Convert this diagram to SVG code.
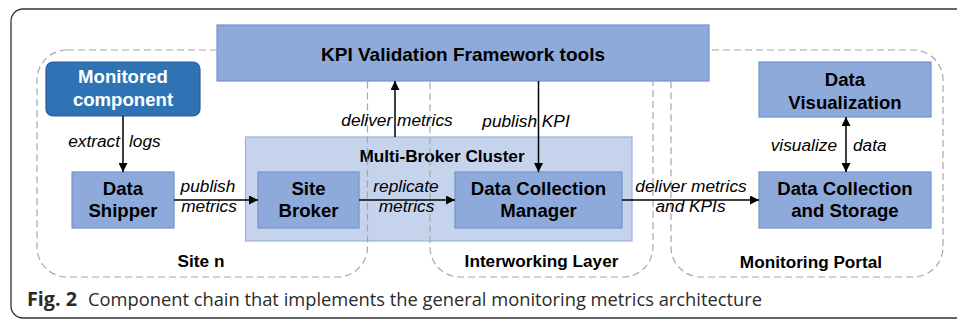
<svg xmlns="http://www.w3.org/2000/svg" width="957" height="321" viewBox="0 0 957 321">
<defs>
<marker id="ah" viewBox="0 0 10 10" refX="10" refY="5" markerWidth="9" markerHeight="9" markerUnits="userSpaceOnUse" orient="auto-start-reverse">
<path d="M0,0 L10,5 L0,10 z" fill="#000"/>
</marker>
<style>
.node{fill:#8eaadb;stroke:#7393cc;stroke-width:1.2}
.cluster{fill:#c5d3ed;stroke:#9cb2dc;stroke-width:1.2}
.mon{fill:#2e74b5;stroke:#2a5b93;stroke-width:1.2}
.region{fill:none;stroke:#a6a6a6;stroke-width:1.2;stroke-dasharray:7 4}
.nt{font-family:"Liberation Sans",Arial,sans-serif;font-weight:bold;font-size:18.6px;fill:#000;text-anchor:middle}
.wt{fill:#fff}
.rt{font-family:"Liberation Sans",Arial,sans-serif;font-weight:bold;font-size:17.2px;fill:#000;text-anchor:middle}
.lt{font-family:"Liberation Sans",Arial,sans-serif;font-style:italic;font-size:17.3px;fill:#000}
.edge{stroke:#000;stroke-width:1.5;fill:none;marker-end:url(#ah)}
.cap{font-family:"Open Sans","Noto Sans",sans-serif;font-size:19px;fill:#2b2b2b}
</style>
</defs>
<rect x="11" y="9" width="980" height="309" rx="12" fill="#fff" stroke="#333" stroke-width="1.3"/>
<g id="multi-broker-cluster">
<rect class="cluster" x="245.5" y="137" width="386.5" height="104"/>
<text class="rt" x="442" y="162">Multi-Broker Cluster</text>
</g>
<g id="site-n">
<rect class="region" x="37" y="50" width="330.5" height="227" rx="30"/>
<text class="rt" x="201" y="267">Site n</text>
</g>
<g id="interworking-layer">
<rect class="region" x="430" y="50" width="223" height="227" rx="30"/>
<text class="rt" x="541.5" y="267">Interworking Layer</text>
</g>
<g id="monitoring-portal">
<rect class="region" x="671" y="50" width="272" height="227" rx="30"/>
<text class="rt" x="811" y="268">Monitoring Portal</text>
</g>
<g id="kpi-validation">
<rect class="node" x="217" y="25" width="492" height="56"/>
<text class="nt" x="463" y="61" style="font-size:19px">KPI Validation Framework tools</text>
</g>
<g id="monitored-component">
<rect class="mon" x="46" y="62" width="154" height="54" rx="7"/>
<text class="nt wt" x="123" y="83">Monitored</text>
<text class="nt wt" x="123" y="106">component</text>
</g>
<g id="data-shipper">
<rect class="node" x="72" y="172" width="102" height="56"/>
<text class="nt" x="123" y="195">Data</text>
<text class="nt" x="123" y="217">Shipper</text>
</g>
<g id="site-broker">
<rect class="node" x="258" y="172" width="101" height="56"/>
<text class="nt" x="308.5" y="195">Site</text>
<text class="nt" x="308.5" y="217">Broker</text>
</g>
<g id="data-collection-manager">
<rect class="node" x="455" y="172" width="167" height="56"/>
<text class="nt" x="538.5" y="195">Data Collection</text>
<text class="nt" x="538.5" y="217">Manager</text>
</g>
<g id="data-collection-storage">
<rect class="node" x="759" y="172" width="172" height="56"/>
<text class="nt" x="845" y="195">Data Collection</text>
<text class="nt" x="845" y="217">and Storage</text>
</g>
<g id="data-visualization">
<rect class="node" x="759" y="62" width="172" height="55"/>
<text class="nt" x="845" y="86">Data</text>
<text class="nt" x="845" y="109">Visualization</text>
</g>
<g id="connectors">
<line class="edge" x1="123" y1="116" x2="123" y2="172"/>
<line class="edge" x1="174" y1="200" x2="258" y2="200"/>
<line class="edge" x1="359" y1="200" x2="455" y2="200"/>
<line class="edge" x1="395" y1="137" x2="395" y2="81"/>
<line class="edge" x1="538.5" y1="81" x2="538.5" y2="172"/>
<line class="edge" x1="622" y1="200" x2="759" y2="200"/>
<line class="edge" x1="846" y1="117" x2="846" y2="172" marker-start="url(#ah)"/>
<text class="lt" x="120" y="147" text-anchor="end">extract</text>
<text class="lt" x="129" y="147">logs</text>
<text class="lt" x="208" y="192" text-anchor="middle">publish</text>
<text class="lt" x="209" y="212" text-anchor="middle">metrics</text>
<text class="lt" x="406" y="192" text-anchor="middle">replicate</text>
<text class="lt" x="406.5" y="212" text-anchor="middle">metrics</text>
<text class="lt" x="397" y="126" text-anchor="middle">deliver metrics</text>
<text class="lt" x="526" y="126.5" text-anchor="middle">publish KPI</text>
<text class="lt" x="691" y="192" text-anchor="middle">deliver metrics</text>
<text class="lt" x="690.5" y="212" text-anchor="middle">and KPIs</text>
<text class="lt" x="837" y="151" text-anchor="end">visualize</text>
<text class="lt" x="853" y="151">data</text>
</g>
<text class="cap" x="27" y="306" font-weight="bold" textLength="50" lengthAdjust="spacingAndGlyphs">Fig. 2</text>
<text class="cap" x="88" y="306" textLength="674" lengthAdjust="spacingAndGlyphs">Component chain that implements the general monitoring metrics architecture</text>
</svg>
